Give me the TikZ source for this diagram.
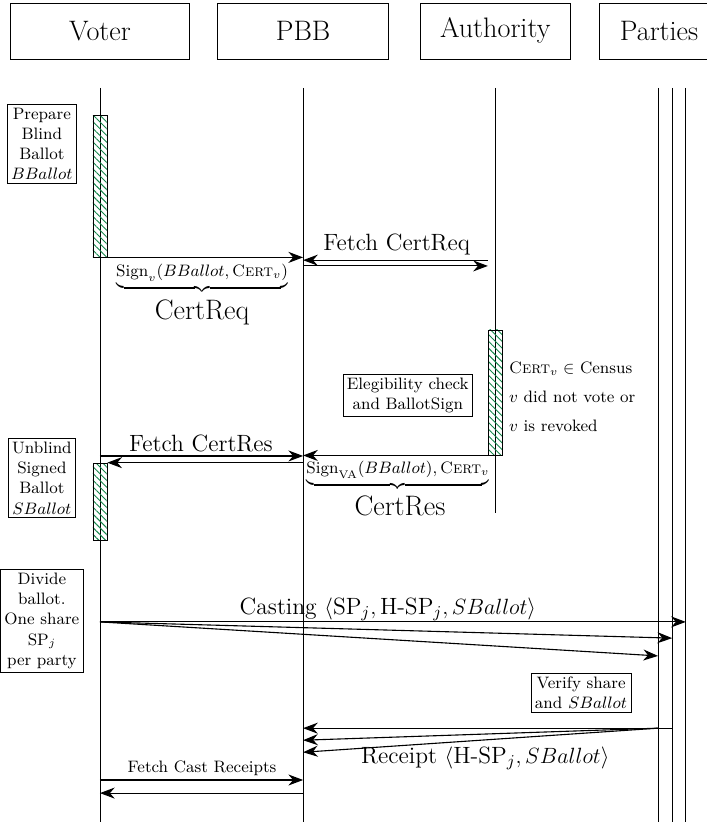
\documentclass[tikz,border=0pt]{standalone}
\usepackage{amsmath}
\usepackage{tikz}
\usepackage{xcolor}
\usetikzlibrary{shapes,positioning,arrows.meta,patterns.meta}

\definecolor{hatchgreen}{RGB}{20,135,75}

\begin{document}
\begin{tikzpicture}[
        entity/.style={rectangle, draw=black, minimum height=1.07cm, font=\fontsize{15.3}{18}\selectfont},
        biglabel/.style={anchor=base, inner sep=0pt, font=\fontsize{15.3}{18}\selectfont},
        msglabel/.style={anchor=base, inner sep=0pt, font=\fontsize{12.8}{15}\selectfont},
        lifeline/.style={draw=black, thin},
        activity/.style={rectangle, draw=black, pattern={Lines[angle=-45, distance=2.6pt, line width=0.5pt]}, pattern color=hatchgreen, minimum width=0.267cm, inner sep=0pt},
        task/.style={rectangle, draw=black, align=center, font=\small, inner sep=2pt},
        msg/.style={-{Stealth[length=8pt,width=6pt]}, semithick}
    ]
        \useasboundingbox (0,0) rectangle (13.505,-15.798);

        % Entities
        \node[entity, minimum width=3.42cm] (voter) at (1.91,-0.59) {Voter};
        \node[entity, minimum width=3.27cm] (pbb) at (5.79,-0.59) {PBB};
        \node[entity, minimum width=2.87cm] (authority) at (9.46,-0.59) {Authority};
        \node[entity, minimum width=2.29cm] (parties) at (12.59,-0.59) {Parties};

        % Lifelines
        \coordinate (voterT) at (1.91,-1.68);
        \coordinate (voterB) at (1.91,-15.70);
        \coordinate (pbbT) at (5.79,-1.68);
        \coordinate (pbbB) at (5.79,-15.70);
        \coordinate (authT) at (9.46,-1.68);
        \coordinate (authB) at (9.46,-9.80);
        \coordinate (partyAT) at (12.57,-1.68);
        \coordinate (partyAB) at (12.57,-15.70);
        \coordinate (partyBT) at (12.84,-1.68);
        \coordinate (partyBB) at (12.84,-15.70);
        \coordinate (partyCT) at (13.10,-1.68);
        \coordinate (partyCB) at (13.10,-15.70);
        \draw[lifeline] (voterT) -- (voterB);
        \draw[lifeline] (pbbT) -- (pbbB);
        \draw[lifeline] (authT) -- (authB);
        \draw[lifeline] (partyAT) -- (partyAB);
        \draw[lifeline] (partyBT) -- (partyBB);
        \draw[lifeline] (partyCT) -- (partyCB);

        % Activity bars
        \node[activity, minimum height=2.71cm] (prep) at (1.91,-3.553) {};
        \node[activity, minimum height=1.47cm] (unblind) at (1.91,-9.580) {};
        \node[activity, minimum height=2.39cm] (check) at (9.46,-7.498) {};

        % Voter tasks
        \node[task] (preptask) at (0.80,-2.75) {Prepare\\Blind\\Ballot\\$BBallot$};
        \node[task] (unblindtask) at (0.80,-9.13) {Unblind\\Signed\\Ballot\\$SBallot$};
        \node[task] (dividetask) at (0.80,-11.86) {Divide\\ballot.\\One share\\SP$_j$\\per party};

        % CertReq
        \draw[msg] (prep.south west) -- (prep.south west -| pbbT);
        \node[anchor=base, font=\small, inner sep=0pt] (signreq) at (3.86,-5.29)
            {$\underbrace{\text{Sign}_v(BBallot,\text{\textsc{Cert}}_v)}$};
        \node[biglabel] (certreq) at (3.86,-6.10) {CertReq};

        % Fetch CertReq
        \coordinate (fetchreq) at (9.32,-4.97);
        \coordinate (sendreq) at (5.79,-5.08);
        \draw[msg] (fetchreq) -- (fetchreq -| pbbT);
        \draw[msg] (sendreq) -- (sendreq -| check.west);
        \node[msglabel] (fetchreqlbl) at (7.58,-4.78) {Fetch CertReq};

        % Elegibility check
        \node[task] (elig) at (7.79,-7.55) {Elegibility check\\and BallotSign};
        \node[anchor=north west, align=left, font=\small, inner sep=0pt] (cond) at (9.72,-6.90)
            {\textsc{Cert}$_v\in$ Census\\[4.8pt]$v$ did not vote or\\[4.8pt]$v$ is revoked};

        % CertRes
        \draw[msg] (check.south west) -- (check.south west -| pbbT);
        \node[anchor=base, font=\small, inner sep=0pt] (signres) at (7.60,-9.05)
            {$\underbrace{\text{Sign}_{\text{VA}}(BBallot),\text{\textsc{Cert}}_v}$};
        \node[biglabel] (certres) at (7.64,-9.85) {CertRes};

        % Fetch CertRes
        \coordinate (fetchres) at (1.91,-8.71);
        \draw[msg] (fetchres) -- (fetchres -| pbbT);
        \draw[msg] (unblind.north east -| pbbT) -- (unblind.north east);
        \node[msglabel] (fetchreslbl) at (3.84,-8.62) {Fetch CertRes};

        % Casting
        \coordinate (cast) at (1.91,-11.88);
        \coordinate (castB) at (12.84,-12.19);
        \coordinate (castA) at (12.57,-12.53);
        \draw[msg] (cast) -- (cast -| partyCT);
        \draw[msg] (cast) -- (castB);
        \draw[msg] (cast) -- (castA);
        \node[msglabel] (castlbl) at (7.41,-11.73)
            {Casting $\langle\text{SP}_j,\text{H-SP}_j,SBallot\rangle$};

        % Receipts
        \node[task] (verify) at (11.10,-13.24) {Verify share\\and $SBallot$};
        \coordinate (rcpt) at (12.84,-13.91);
        \coordinate (rcptA) at (12.57,-13.91);
        \coordinate (pbbR2) at (5.79,-14.14);
        \coordinate (pbbR3) at (5.79,-14.37);
        \draw[msg] (rcpt) -- (rcpt -| pbbT);
        \draw[msg] (rcptA) -- (pbbR2);
        \draw[msg] (rcptA) -- (pbbR3);
        \node[msglabel] (rcptlbl) at (9.27,-14.58)
            {Receipt $\langle\text{H-SP}_j,SBallot\rangle$};

        % Fetch Cast Receipts
        \coordinate (fetchcast) at (1.91,-14.90);
        \coordinate (sendcast) at (5.79,-15.15);
        \draw[msg] (fetchcast) -- (fetchcast -| pbbT);
        \draw[msg] (sendcast) -- (sendcast -| voterT);
        \node[anchor=base, font=\small, inner sep=0pt] (fetchcastlbl) at (3.86,-14.75) {Fetch Cast Receipts};
    \end{tikzpicture}
\end{document}
